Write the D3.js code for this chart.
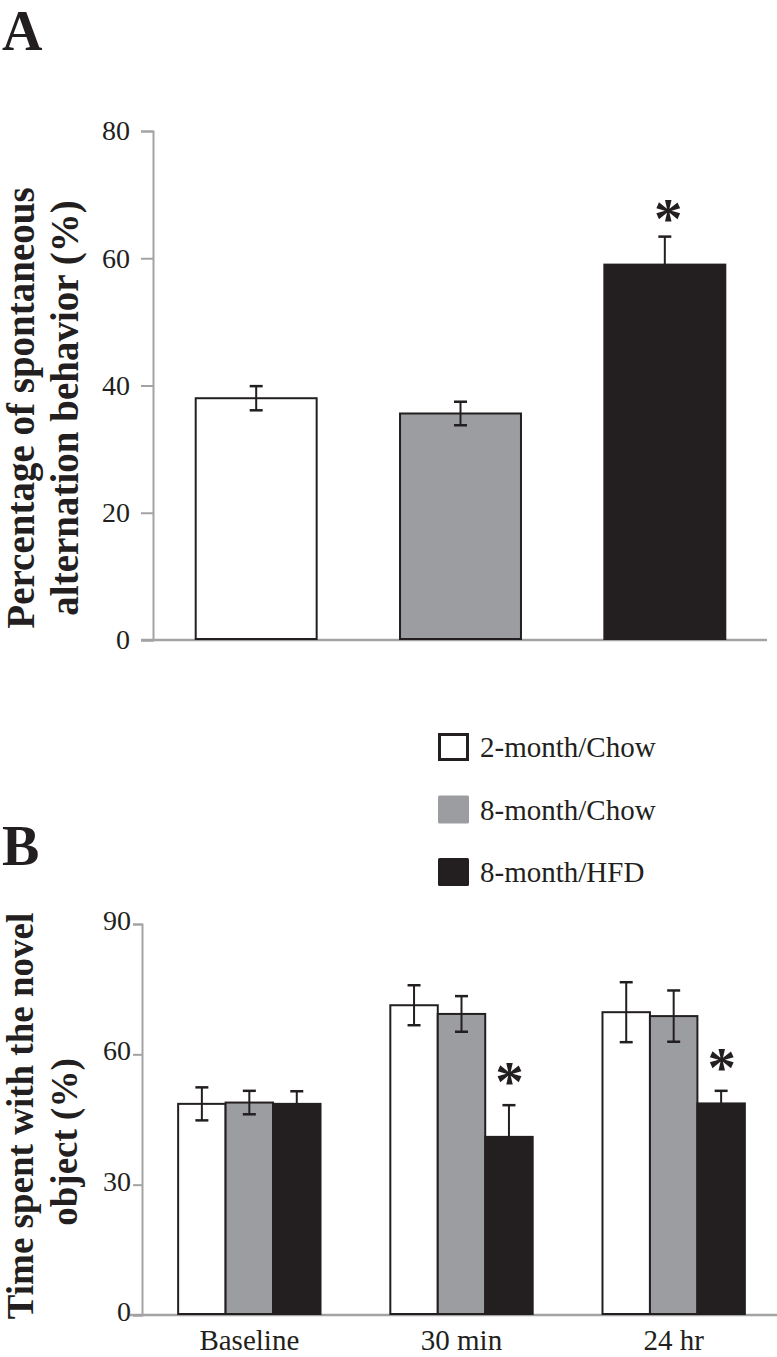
<!DOCTYPE html>
<html><head><meta charset="utf-8">
<script src="https://cdn.jsdelivr.net/npm/d3@7"></script>
<style>body{margin:0;background:#fff}svg{display:block}text{font-family:"Liberation Serif","Times New Roman",serif;fill:#231f20}</style>
</head><body>
<script>
// ---- data ----
const groups = ["2-month/Chow", "8-month/Chow", "8-month/HFD"];
const groupColors = ["#ffffff", "#9c9da0", "#231f20"];
// Panel A
const alternationMean = [38.0, 35.6, 59.0];
const alternationSem = [1.9, 1.85, 4.4];
const alternationSig = [false, false, true];
const ticksA = [0, 20, 40, 60, 80];
// Panel B
const phases = ["Baseline", "30 min", "24 hr"];
const novelMean = {
  "2-month/Chow": [48.6, 71.3, 69.7],
  "8-month/Chow": [48.9, 69.3, 68.8],
  "8-month/HFD": [48.6, 41.0, 48.7]
};
const novelSem = {
  "2-month/Chow": [3.8, 4.6, 6.9],
  "8-month/Chow": [2.7, 4.1, 5.9],
  "8-month/HFD": [2.9, 7.3, 2.9]
};
const novelSig = {
  "2-month/Chow": [false, false, false],
  "8-month/Chow": [false, false, false],
  "8-month/HFD": [false, true, true]
};
const ticksB = [0, 30, 60, 90];

// ---- drawing ----
const W = 777, H = 1357;
const ink = "#231f20", axisCol = "#a3a3a3";
const svg = d3.select("body").append("svg").attr("width", W).attr("height", H);
svg.append("rect").attr("width", W).attr("height", H).attr("fill", "#fff");
const color = d3.scaleOrdinal().domain(groups).range(groupColors);

// Panel letters
svg.append("text").attr("x", 2).attr("y", 50).attr("font-size", 56).attr("font-weight", "bold").text("A");
svg.append("text").attr("x", 2).attr("y", 865).attr("font-size", 56).attr("font-weight", "bold").text("B");

function errorBar(g, cx, y, v, e, capW) {
  g.append("line").attr("x1", cx).attr("x2", cx).attr("y1", y(v + e)).attr("y2", y(v - e))
    .attr("stroke", ink).attr("stroke-width", 2);
  [v + e, v - e].forEach(t => g.append("line").attr("x1", cx - capW / 2).attr("x2", cx + capW / 2)
    .attr("y1", y(t)).attr("y2", y(t)).attr("stroke", ink).attr("stroke-width", 2.5));
}
const starSize = 57;
function star(g, cx, cy) {
  g.append("text").attr("x", cx).attr("y", cy + 0.46 * starSize).attr("text-anchor", "middle")
    .attr("font-size", starSize).attr("font-weight", "bold").text("*");
}

// ===== Panel A =====
{
  const g = svg.append("g");
  const y = d3.scaleLinear().domain([0, 80]).range([640, 131]);
  const x = d3.scaleBand().domain(groups).range([153, 768]).paddingInner(0.408).paddingOuter(0.209);
  const yAxis = d3.axisLeft(y).tickValues(ticksA).tickSize(12).tickPadding(11).tickFormat(d3.format("d"));
  const ga = g.append("g").attr("transform", "translate(153,0)").call(yAxis);
  ga.select(".domain").attr("stroke", axisCol).attr("stroke-width", 2);
  ga.selectAll(".tick line").attr("stroke", axisCol).attr("stroke-width", 2);
  ga.selectAll(".tick text").attr("font-size", 28).attr("font-family", "Liberation Serif").attr("fill", ink);
  g.append("line").attr("x1", 141).attr("x2", 767).attr("y1", y(0)).attr("y2", y(0)).attr("stroke", axisCol).attr("stroke-width", 2.5);
  groups.forEach((k, i) => {
    const v = alternationMean[i];
    g.append("rect").attr("x", x(k)).attr("y", y(v)).attr("width", x.bandwidth()).attr("height", y(0) - y(v) - 1)
      .attr("fill", color(k)).attr("stroke", ink).attr("stroke-width", 2);
    errorBar(g, x(k) + x.bandwidth() / 2, y, v, alternationSem[i], 13);
    if (alternationSig[i]) star(g, x(k) + x.bandwidth() / 2 + 3.5, y(v + alternationSem[i]) - 25);
  });
  const lab = g.append("text").attr("transform", "translate(0,408) rotate(-90)").attr("text-anchor", "middle")
    .attr("font-size", 39).attr("font-weight", "bold");
  lab.append("tspan").attr("x", 0).attr("y", 34).text("Percentage of spontaneous");
  lab.append("tspan").attr("x", 0).attr("y", 78).text("alternation behavior (%)");
}

// ===== Legend =====
{
  const g = svg.append("g");
  const ly = d3.scalePoint().domain(groups).range([747, 872]);
  groups.forEach((k, i) => {
    const r = g.append("rect").attr("x", i === 0 ? 439.5 : 438).attr("y", ly(k) - (i === 0 ? 12.5 : 14))
      .attr("width", i === 0 ? 28 : 31).attr("height", i === 0 ? 25 : 28).attr("rx", i === 0 ? 0 : 1.5)
      .attr("fill", color(k));
    if (i === 0) r.attr("stroke", ink).attr("stroke-width", 3);
    g.append("text").attr("x", 480).attr("y", ly(k) + 10).attr("font-size", 29).text(k);
  });
}

// ===== Panel B =====
{
  const g = svg.append("g");
  const y = d3.scaleLinear().domain([0, 90]).range([1315, 924]);
  const x0 = d3.scaleBand().domain(phases).range([142.5, 780.5]).paddingInner(0.329).paddingOuter(0.168);
  const x1 = d3.scaleBand().domain(groups).range([0, x0.bandwidth()]);
  const yAxis = d3.axisLeft(y).tickValues(ticksB).tickSize(9).tickPadding(2).tickFormat(d3.format("d"));
  const ga = g.append("g").attr("transform", "translate(142,0)").call(yAxis);
  ga.select(".domain").attr("stroke", axisCol).attr("stroke-width", 2);
  ga.selectAll(".tick line").attr("stroke", axisCol).attr("stroke-width", 2);
  ga.selectAll(".tick text").attr("font-size", 28).attr("font-family", "Liberation Serif").attr("fill", ink).attr("dy", "0.2em");
  const xAxis = d3.axisBottom(x0).tickSize(0).tickPadding(10);
  const gx = g.append("g").attr("transform", `translate(0,${y(0)})`).call(xAxis);
  gx.select(".domain").remove();
  gx.selectAll(".tick text").attr("font-size", 29).attr("font-family", "Liberation Serif").attr("fill", ink).attr("dy", "0.85em");
  g.append("line").attr("x1", 130).attr("x2", 777).attr("y1", y(0)).attr("y2", y(0)).attr("stroke", axisCol).attr("stroke-width", 2.5);
  phases.forEach((p, j) => {
    groups.forEach(k => {
      const v = novelMean[k][j];
      g.append("rect").attr("x", x0(p) + x1(k)).attr("y", y(v)).attr("width", x1.bandwidth()).attr("height", y(0) - y(v) - 1)
        .attr("fill", color(k)).attr("stroke", ink).attr("stroke-width", 2);
    });
    groups.forEach(k => {
      const v = novelMean[k][j], cx = x0(p) + x1(k) + x1.bandwidth() / 2;
      errorBar(g, cx, y, v, novelSem[k][j], 13);
      if (novelSig[k][j]) star(g, cx + 0.5, y(v + novelSem[k][j]) - 30);
    });
  });
  g.append("text").attr("transform", "translate(33,1116) rotate(-90)").attr("text-anchor", "middle")
    .attr("font-size", 37).attr("font-weight", "bold").text("Time spent with the novel");
  g.append("text").attr("transform", "translate(77,1142) rotate(-90)").attr("text-anchor", "middle")
    .attr("font-size", 37).attr("font-weight", "bold").text("object (%)");
}
</script>
</body></html>
